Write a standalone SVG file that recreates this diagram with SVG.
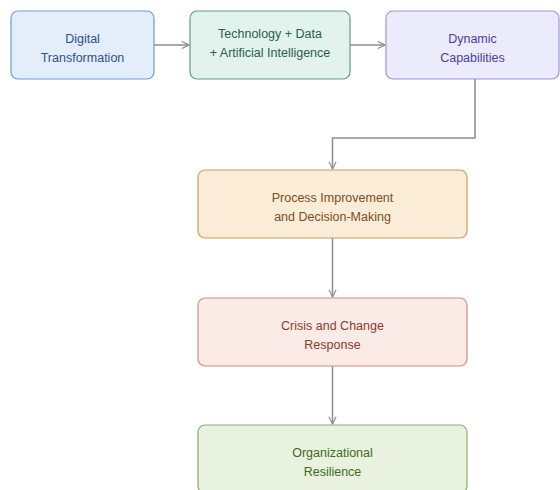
<svg xmlns="http://www.w3.org/2000/svg" width="560" height="490" viewBox="0 0 560 490">
  <defs>
    <marker id="arrow" viewBox="0 0 10 10" refX="9" refY="5" markerWidth="9" markerHeight="9" markerUnits="userSpaceOnUse" orient="auto">
      <path d="M1,1 L9,5 L1,9" fill="none" stroke="#8c8c8c" stroke-width="1.3"/>
    </marker>
    <style>
      rect { stroke-width: 1.2; }
      text { font-family: "Liberation Sans", Arial, sans-serif; font-size: 12.5px; text-anchor: middle; }
      .edge { fill: none; stroke: #8c8c8c; stroke-width: 1.5; }
      .blue rect { fill: #e4eefa; stroke: #6f9cd3; } .blue text { fill: #2d518a; }
      .teal rect { fill: #e1f3ec; stroke: #5f9f86; } .teal text { fill: #2b5e4b; }
      .violet rect { fill: #ecebfc; stroke: #9e94e2; } .violet text { fill: #4a40a0; }
      .amber rect { fill: #fbecd8; stroke: #c89c5c; } .amber text { fill: #7a4f1d; }
      .coral rect { fill: #fbebe6; stroke: #d28c7a; } .coral text { fill: #8b3b2b; }
      .green rect { fill: #e8f2de; stroke: #88b06a; } .green text { fill: #3f6b22; }
    </style>
  </defs>

  <!-- connectors -->
  <g id="edges">
    <path class="edge" d="M154,45 H189" marker-end="url(#arrow)"/>
    <path class="edge" d="M350,45 H385" marker-end="url(#arrow)"/>
    <path class="edge" d="M475,79 V138 H332.5 V169" marker-end="url(#arrow)"/>
    <path class="edge" d="M332.5,238 V297" marker-end="url(#arrow)"/>
    <path class="edge" d="M332.5,366 V424" marker-end="url(#arrow)"/>
  </g>

  <g id="digital-transformation" class="blue">
    <rect x="11" y="11" width="143" height="68" rx="7"/>
    <text x="82.5" y="42.5">Digital</text>
    <text x="82.5" y="61.5">Transformation</text>
  </g>

  <g id="technology-data-ai" class="teal">
    <rect x="190" y="11" width="160" height="68" rx="7"/>
    <text x="270" y="37.5">Technology + Data</text>
    <text x="270" y="56.5">+ Artificial Intelligence</text>
  </g>

  <g id="dynamic-capabilities" class="violet">
    <rect x="386" y="11" width="173" height="68" rx="7"/>
    <text x="472.5" y="42.5">Dynamic</text>
    <text x="472.5" y="61.5">Capabilities</text>
  </g>

  <g id="process-improvement" class="amber">
    <rect x="198" y="170" width="269" height="68" rx="7"/>
    <text x="332.5" y="201.5">Process Improvement</text>
    <text x="332.5" y="220.5">and Decision-Making</text>
  </g>

  <g id="crisis-response" class="coral">
    <rect x="198" y="298" width="269" height="68" rx="7"/>
    <text x="332.5" y="329.5">Crisis and Change</text>
    <text x="332.5" y="348.5">Response</text>
  </g>

  <g id="organizational-resilience" class="green">
    <rect x="198" y="425" width="269" height="68" rx="7"/>
    <text x="332.5" y="456.5">Organizational</text>
    <text x="332.5" y="475.5">Resilience</text>
  </g>
</svg>
